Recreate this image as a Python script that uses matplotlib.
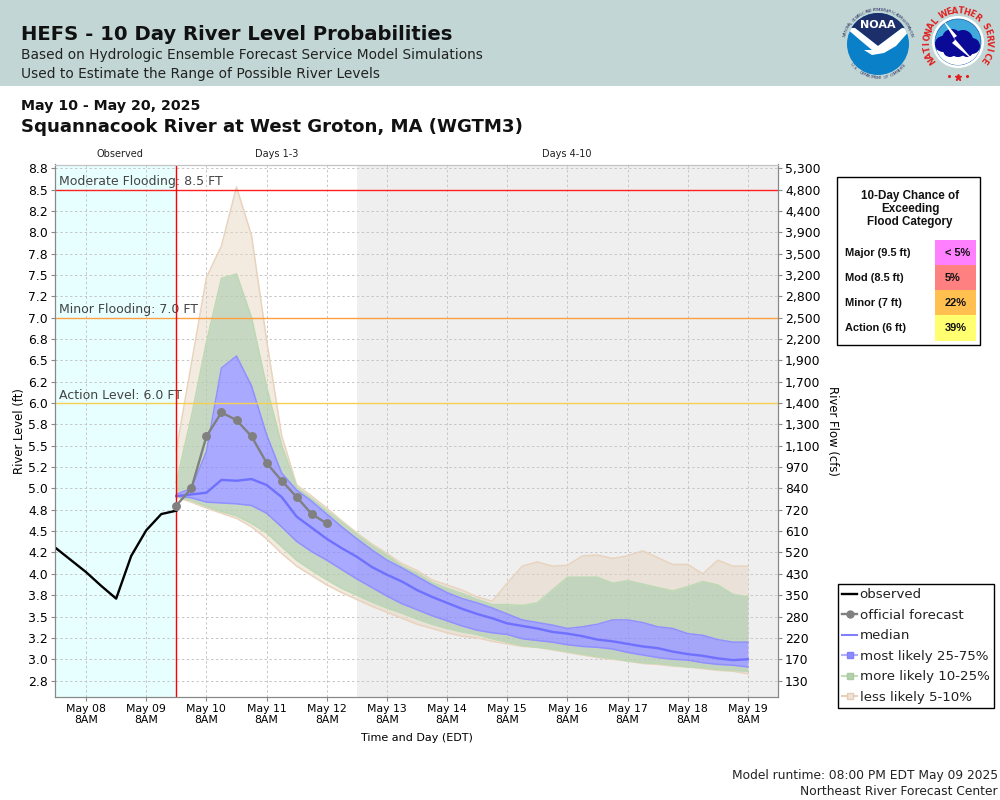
import numpy as np
import matplotlib
matplotlib.use("Agg")
import matplotlib.pyplot as plt
from matplotlib.lines import Line2D
from matplotlib.patches import Circle, Polygon, Rectangle

# hours since May 08 8AM
obs_hours = [-12, -6, 0, 6, 12, 18, 24, 30, 36]
observed = [4.30, 4.16, 4.02, 3.86, 3.71, 4.21, 4.51, 4.70, 4.74]

official = [4.80, 5.00, 5.61, 5.89, 5.80, 5.61, 5.30, 5.09, 4.90, 4.70, 4.59]

median = [4.91, 4.93, 4.95, 5.10, 5.09, 5.11, 5.04, 4.90, 4.67, 4.54, 4.41, 4.30, 4.20,
          4.08, 3.99, 3.91, 3.81, 3.73, 3.66, 3.59, 3.53, 3.48, 3.42, 3.39, 3.36, 3.32,
          3.30, 3.27, 3.23, 3.21, 3.18, 3.15, 3.13, 3.09, 3.06, 3.04, 3.01, 2.99, 3.00]
p75 = [4.93, 5.00, 5.43, 6.41, 6.55, 6.20, 5.63, 5.18, 4.98, 4.85, 4.70, 4.55, 4.41,
       4.28, 4.16, 4.07, 3.97, 3.87, 3.78, 3.71, 3.66, 3.60, 3.53, 3.46, 3.43, 3.40,
       3.36, 3.38, 3.41, 3.46, 3.46, 3.43, 3.38, 3.36, 3.30, 3.28, 3.23, 3.20, 3.20]
p25 = [4.91, 4.89, 4.84, 4.83, 4.82, 4.80, 4.71, 4.55, 4.38, 4.26, 4.16, 4.05, 3.94,
       3.84, 3.74, 3.65, 3.58, 3.51, 3.45, 3.39, 3.34, 3.31, 3.29, 3.24, 3.22, 3.20,
       3.17, 3.15, 3.14, 3.12, 3.08, 3.05, 3.02, 3.00, 2.99, 2.96, 2.94, 2.93, 2.91]
p90 = [5.07, 5.84, 6.71, 7.46, 7.51, 7.00, 6.19, 5.51, 5.01, 4.88, 4.74, 4.60, 4.46,
       4.33, 4.22, 4.09, 4.01, 3.90, 3.83, 3.77, 3.70, 3.64, 3.64, 3.63, 3.66, 3.81,
       3.96, 3.96, 3.96, 3.89, 3.92, 3.88, 3.84, 3.80, 3.85, 3.91, 3.87, 3.76, 3.73]
p10 = [4.90, 4.86, 4.79, 4.73, 4.68, 4.59, 4.48, 4.32, 4.16, 4.04, 3.93, 3.83, 3.75,
       3.67, 3.60, 3.54, 3.47, 3.41, 3.36, 3.32, 3.29, 3.24, 3.20, 3.16, 3.14, 3.12,
       3.09, 3.06, 3.03, 3.01, 2.98, 2.96, 2.95, 2.93, 2.91, 2.90, 2.88, 2.87, 2.86]
p95 = [5.45, 6.46, 7.47, 7.84, 8.53, 7.96, 6.74, 5.62, 5.04, 4.91, 4.77, 4.62, 4.48,
       4.35, 4.24, 4.12, 4.04, 3.93, 3.87, 3.81, 3.73, 3.68, 3.89, 4.09, 4.14, 4.09,
       4.10, 4.21, 4.22, 4.18, 4.21, 4.27, 4.19, 4.11, 4.11, 4.00, 4.16, 4.09, 4.09]
p5 = [4.90, 4.84, 4.77, 4.71, 4.65, 4.55, 4.41, 4.24, 4.09, 3.98, 3.87, 3.78, 3.70,
      3.62, 3.55, 3.48, 3.41, 3.36, 3.31, 3.27, 3.25, 3.21, 3.18, 3.15, 3.14, 3.11,
      3.08, 3.05, 3.02, 3.00, 2.98, 2.95, 2.94, 2.92, 2.91, 2.89, 2.87, 2.86, 2.83]

level_ticks = np.arange(2.75, 8.76, 0.25)
level_labels = ["2.8", "3.0", "3.2", "3.5", "3.8", "4.0", "4.2", "4.5", "4.8", "5.0", "5.2", "5.5", "5.8",
                "6.0", "6.2", "6.5", "6.8", "7.0", "7.2", "7.5", "7.8", "8.0", "8.2", "8.5", "8.8"]
flow_labels = ["130", "170", "220", "280", "350", "430", "520", "610", "720", "840", "970", "1,100", "1,300",
               "1,400", "1,700", "1,900", "2,200", "2,500", "2,800", "3,200", "3,500", "3,900", "4,400", "4,800", "5,300"]
day_labels = ["May 08", "May 09", "May 10", "May 11", "May 12", "May 13",
              "May 14", "May 15", "May 16", "May 17", "May 18", "May 19"]

flood_levels = [8.5, 7.0, 6.0]
flood_names = ["Moderate Flooding: 8.5 FT", "Minor Flooding: 7.0 FT", "Action Level: 6.0 FT"]
flood_colors = ["#ff2020", "#ffa040", "#f5cf50"]

chance_names = ["Major (9.5 ft)", "Mod (8.5 ft)", "Minor (7 ft)", "Action (6 ft)"]
chance_values = ["< 5%", "5%", "22%", "39%"]
chance_colors = ["#ff80ff", "#ff8080", "#ffc050", "#ffff70"]

TAN_FILL, TAN_EDGE = "#e6d5c0", "#e8d4be"
GREEN_FILL, GREEN_EDGE = "#b4ccae", "#bcd8b4"
BLUE_FILL, BLUE_EDGE = "#8c8cff", "#9090ff"
GRID = "#c6c6c6"


def arc_text(ov, s, cx, cy, r, start, end, color, size, weight="normal", bottom=False):
    """Put the letters of s one by one on a circle, from angle start to end."""
    for ch, a in zip(s, np.linspace(start, end, len(s))):
        rad = np.radians(a)
        rot = a + 90 if bottom else a - 90
        ov.text(cx + r * np.cos(rad), cy - r * np.sin(rad), ch, color=color, fontsize=size,
                fontweight=weight, rotation=rot, rotation_mode="anchor", ha="center", va="center")


def draw_noaa(ov):
    cx, cy = 878, 44
    disk = Circle((cx, cy), 31, fc="#0a80c8", ec="none", zorder=3)
    ov.add_patch(disk)
    top = Polygon([(842, 10), (914, 10), (914, 27), (902, 28), (878, 46), (855, 28), (842, 27)],
                  fc="#1c2f6b", ec="none", zorder=4)
    ov.add_patch(top)
    top.set_clip_path(disk)
    wing = Polygon([(846, 28), (855, 28), (878, 46), (902, 28), (911, 29), (896, 46), (884, 53),
                    (872, 55), (864, 50), (872, 50), (860, 40)],
                   fc="white", ec="none", zorder=5)
    ov.add_patch(wing)
    wing.set_clip_path(disk)
    ov.text(cx, 25, "NOAA", color="white", fontsize=8, fontweight="bold", ha="center", va="center", zorder=6)
    arc_text(ov, "NATIONAL OCEANIC AND ATMOSPHERIC ADMINISTRATION", cx, cy, 34, 165, 15, "#333366", 2.8)
    arc_text(ov, "U.S. DEPARTMENT OF COMMERCE", cx, cy, 34, 218, 322, "#333366", 2.8, bottom=True)


def draw_nws(ov):
    cx, cy = 958, 42
    ov.add_patch(Circle((cx, cy), 26, fc="white", ec="none", zorder=3))
    ring = Circle((cx, cy), 23, fc="#3fa8dc", ec="#1c5fa8", lw=0.5, zorder=4)
    ov.add_patch(ring)
    ov.add_patch(Rectangle((cx - 24, cy + 8), 48, 16, fc="white", ec="none", zorder=5, clip_path=ring))
    for dx, dy, r in [(-15, 2, 8), (-6, -3, 10), (5, -2, 10), (14, 4, 8), (0, 6, 9), (-8, 8, 7), (9, 9, 6)]:
        ov.add_patch(Circle((cx + dx, cy + dy), r, fc="#0a0a96", ec="none", zorder=6))
    ov.add_patch(Polygon([(cx - 16, cy - 23), (cx - 1, cy - 6), (cx - 4, cy - 4), (cx + 16, cy + 19),
                          (cx - 6, cy + 1), (cx - 3, cy - 2)], fc="white", ec="none", zorder=7))
    arc_text(ov, "NATIONAL WEATHER SERVICE", cx, cy, 31, 215, -35, "#e02020", 6, weight="bold")
    ov.plot([cx - 9, cx + 9], [cy + 34, cy + 34], ls="none", marker=".", color="#e02020", ms=2.5, zorder=7)
    ov.plot([cx], [cy + 35], ls="none", marker="*", color="#e02020", ms=5, zorder=7)


def main():
    fig = plt.figure(figsize=(10, 8), dpi=100)

    ax = fig.add_axes([55 / 1000, 103 / 800, 723 / 1000, 532.5 / 800])
    ax.set_xlim(-12.4, 276)
    ax.set_ylim(2.558, 8.793)
    ax.set_axisbelow(True)

    ax.axvspan(-12.4, 36, color="#e8ffff", lw=0, zorder=0)
    ax.axvspan(108, 276, color="#efefef", lw=0, zorder=0)

    day_ticks = np.arange(0, 265, 24)
    ax.set_xticks(day_ticks)
    ax.set_xticklabels([d + "\n8AM" for d in day_labels], fontsize=7.8, linespacing=1.15)
    ax.set_yticks(level_ticks)
    ax.set_yticklabels(level_labels, fontsize=8.9)
    ax.grid(True, color=GRID, ls=(0, (2.5, 2.5)), lw=0.7, zorder=1)
    ax.tick_params(length=3, width=0.8, color="#888888", pad=2)

    # forecast bands
    hours = np.arange(36, 265, 6)
    bands = [(p5, p10, TAN_FILL), (p90, p95, TAN_FILL),
             (p10, p25, GREEN_FILL), (p75, p90, GREEN_FILL),
             (p25, p75, BLUE_FILL)]
    for lo, hi, fill in bands:
        ax.fill_between(hours, lo, hi, color=fill, alpha=0.48 if fill == TAN_FILL else 0.75, lw=0, zorder=2)
    for curve, edge in [(p5, TAN_EDGE), (p95, TAN_EDGE), (p10, GREEN_EDGE), (p90, GREEN_EDGE),
                        (p25, BLUE_EDGE), (p75, BLUE_EDGE)]:
        ax.plot(hours, curve, color=edge, lw=1.1, zorder=3)
    ax.plot(hours, median, color="#7070ff", lw=1.7, zorder=4)

    for lev, name, col in zip(flood_levels, flood_names, flood_colors):
        ax.axhline(lev, color=col, lw=1, zorder=5)
        ax.text(-11, lev + 0.015, name, color="#444444", fontsize=9, va="bottom", zorder=6)
    ax.axvline(36, color="#ff0000", lw=1, zorder=6)

    ax.plot(obs_hours, observed, color="black", lw=1.7, zorder=7)
    ax.plot(hours[:len(official)], official, color="#808080", lw=1.7, marker="o", ms=5.4, zorder=8)

    ax.set_xlabel("Time and Day (EDT)", fontsize=8, labelpad=6)
    ax.set_ylabel("River Level (ft)", fontsize=8.4, labelpad=2)

    ax2 = ax.twinx()
    ax2.set_ylim(ax.get_ylim())
    ax2.set_yticks(level_ticks)
    ax2.set_yticklabels(flow_labels, fontsize=8.9)
    ax2.tick_params(length=3, width=0.8, color="#888888", pad=2)
    ax2.set_ylabel("River Flow (cfs)", fontsize=8.4, rotation=-90, labelpad=13)

    for a in (ax, ax2):
        a.spines["left"].set_color("#888888")
        a.spines["bottom"].set_color("#888888")
        a.spines["right"].set_color("#888888")
        a.spines["top"].set_color("#c4c4c4")

    # everything outside the plot is placed in pixels on an overlay
    ov = fig.add_axes([0, 0, 1, 1], zorder=5)
    ov.set_xlim(0, 1000)
    ov.set_ylim(800, 0)
    ov.axis("off")

    ov.add_patch(Rectangle((0, 0), 1000, 86, fc="#c2d7d5", ec="none", zorder=0))
    ov.text(21, 40, "HEFS - 10 Day River Level Probabilities", fontsize=14.1, fontweight="bold", color="#111111")
    ov.text(21, 59, "Based on Hydrologic Ensemble Forecast Service Model Simulations", fontsize=9.9, color="#222222")
    ov.text(21, 78, "Used to Estimate the Range of Possible River Levels", fontsize=9.9, color="#222222")
    ov.text(21, 110, "May 10 - May 20, 2025", fontsize=10.2, fontweight="bold", color="#111111")
    ov.text(21, 132, "Squannacook River at West Groton, MA (WGTM3)", fontsize=13.08, fontweight="bold", color="#111111")
    draw_noaa(ov)
    draw_nws(ov)

    for label, x in [("Observed", 120), ("Days 1-3", 276.5), ("Days 4-10", 567)]:
        ov.text(x, 157, label, fontsize=7, ha="center", color="#222222")

    # chance of exceeding box
    ov.add_patch(Rectangle((837, 177), 143, 168, fc="white", ec="black", lw=1, zorder=1))
    for i, line in enumerate(["10-Day Chance of", "Exceeding", "Flood Category"]):
        ov.text(910, 199 + i * 13, line, fontsize=8.4, fontweight="bold", family="Liberation Sans",
                ha="center", color="#111111", zorder=2)
    for i, (name, val, col) in enumerate(zip(chance_names, chance_values, chance_colors)):
        top = 240 + i * 25
        ov.add_patch(Rectangle((935, top), 41, 25.5, fc=col, ec="none", zorder=2))
        ov.text(845, top + 16, name, fontsize=7.9, fontweight="bold", family="Liberation Sans", color="#111111", zorder=3)
        ov.text(945, top + 16, val, fontsize=7.9, fontweight="bold", family="Liberation Sans", color="#111111", zorder=3)

    handles = [
        Line2D([], [], color="black", lw=1.7),
        Line2D([], [], color="#808080", lw=1.7, marker="o", ms=5),
        Line2D([], [], color="#8080ff", lw=1.5),
        Line2D([], [], color="#b0b0ff", lw=1.5, marker="s", ms=5, mfc="#8c8cff", mec="#8080ff"),
        Line2D([], [], color="#c0dcb8", lw=1.5, marker="s", ms=5, mfc="#b4d0ae", mec="#a8cc9e"),
        Line2D([], [], color="#e6d2bc", lw=1.5, marker="s", ms=5, mfc="#efe4d8", mec="#e4cdb4"),
    ]
    names = ["observed", "official forecast", "median", "most likely 25-75%",
             "more likely 10-25%", "less likely 5-10%"]
    leg = ov.legend(handles, names, loc="upper left", bbox_to_anchor=(837.5 / 1000, 1 - 583.5 / 800),
                    borderaxespad=0, fontsize=9.6, frameon=True, fancybox=False, edgecolor="black",
                    framealpha=1, handlelength=1.1, handletextpad=0.2, labelspacing=0.56,
                    borderpad=0.36, labelcolor="#222222")
    leg.get_frame().set_linewidth(1)

    ov.text(998, 779, "Model runtime: 08:00 PM EDT May 09 2025", fontsize=8.8, ha="right", color="#222222")
    ov.text(998, 795, "Northeast River Forecast Center", fontsize=8.8, ha="right", color="#222222")

    fig.savefig("out.png", dpi=100)
    plt.close(fig)


if __name__ == "__main__":
    main()
